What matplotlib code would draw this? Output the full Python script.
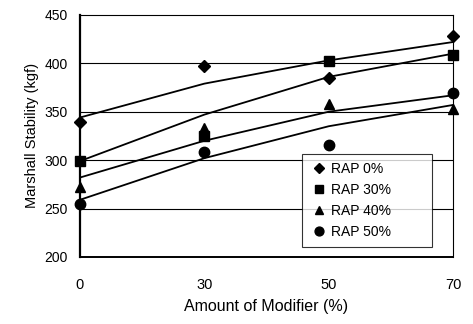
import numpy as np
import matplotlib.pyplot as plt

plt.rcParams['font.family'] = ['Liberation Sans', 'DejaVu Sans']

modifier = ["0", "30", "50", "70"]

rap0 = [339, 397, 385, 428]
rap30 = [299, 325, 402, 409]
rap40 = [272, 333, 358, 353]
rap50 = [255, 308, 316, 369]

# fitted trend curves, one value per modifier level
trend_a = [344, 379, 403, 422]
trend_b = [299, 347, 386, 410]
trend_c = [282, 320, 350, 367]
trend_d = [259, 302, 335, 357]

series = [
    ("RAP 0%", rap0, "D", 6.5),
    ("RAP 30%", rap30, "s", 7),
    ("RAP 40%", rap40, "^", 7.5),
    ("RAP 50%", rap50, "o", 7.5),
]

fig = plt.figure(figsize=(4.73, 3.24), dpi=100)
ax = fig.add_axes([0.169, 0.207, 0.789, 0.747])

x = np.arange(len(modifier))

for yv in [250, 300, 350, 400]:
    ax.axhline(yv, color="black", lw=0.8, zorder=1)

for t in [trend_a, trend_b, trend_c, trend_d]:
    ax.plot(x, t, color="black", lw=1.3, zorder=2)

for label, vals, mk, ms in series:
    ax.plot(x, vals, linestyle="none", marker=mk, markersize=ms,
            color="black", label=label, clip_on=False, zorder=3)

ax.set_xlim(0, 3)
ax.set_ylim(200, 450)
ax.set_xticks(x)
ax.set_xticklabels(modifier)
ax.set_yticks([200, 250, 300, 350, 400, 450])
ax.tick_params(axis="x", length=0, pad=15, labelsize=10.5)
ax.tick_params(axis="y", length=0, pad=9, labelsize=10)

for s in ax.spines.values():
    s.set_linewidth(0.8)
ax.spines["left"].set_linewidth(1.6)
ax.spines["bottom"].set_linewidth(1.4)

ax.set_xlabel("Amount of Modifier (%)", fontsize=11.5, labelpad=5)
ax.set_ylabel("Marshall Stability (kgf)", fontsize=10.5, labelpad=4)

leg = ax.legend(loc="lower left", bbox_to_anchor=(0.595, 0.041, 0.349, 0.368),
                mode="expand", fontsize=10, frameon=True, fancybox=False,
                edgecolor="black", handletextpad=0.3, handlelength=1.2,
                markerscale=0.85, labelspacing=0.5, borderaxespad=0,
                borderpad=0.6)
leg.get_frame().set_linewidth(0.8)

fig.savefig("out.png", dpi=100)
